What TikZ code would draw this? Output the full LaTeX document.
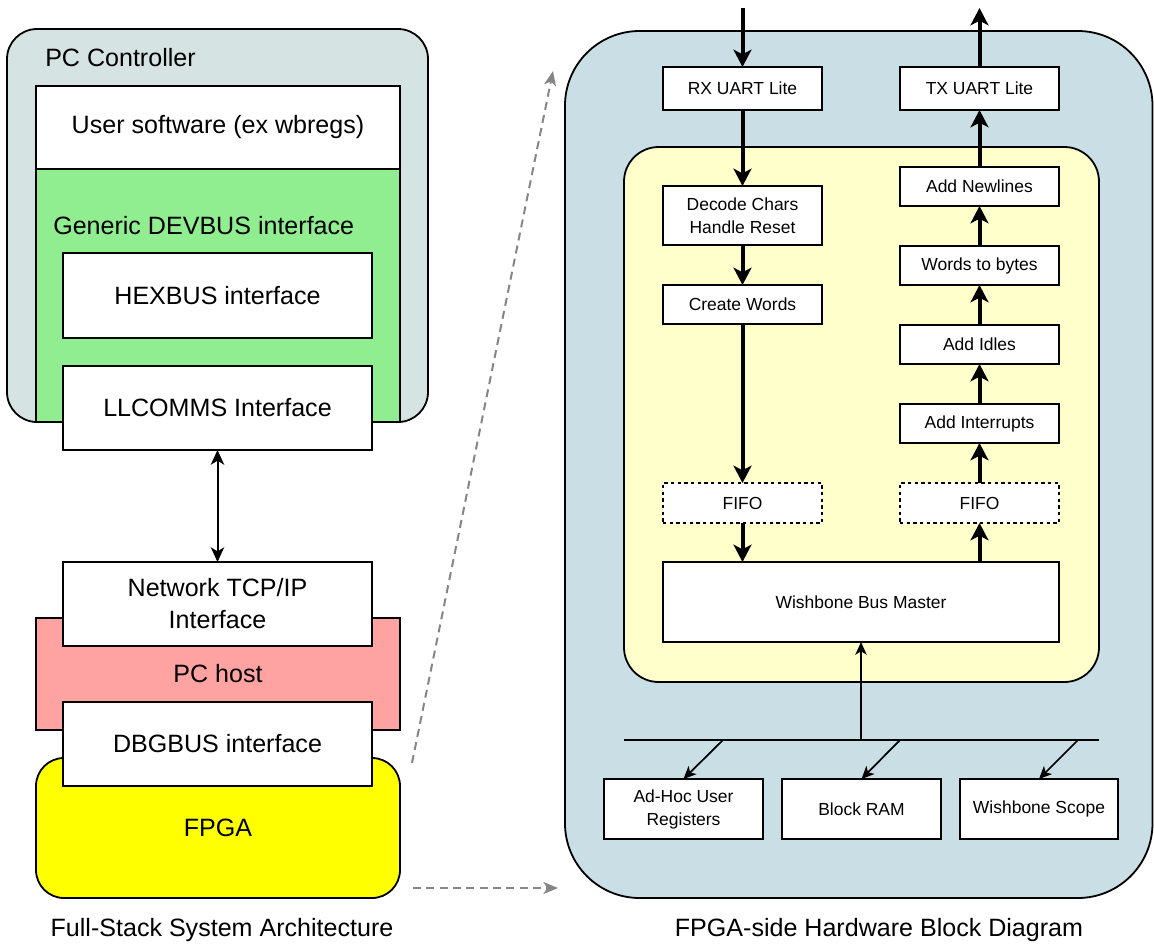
\documentclass[tikz,border=0pt]{standalone}
\usepackage{fontspec}
\setmainfont{Liberation Sans}
\usetikzlibrary{arrows.meta}
\definecolor{ctrlfill}{HTML}{D5E3E2}
\definecolor{devgreen}{HTML}{90EE90}
\definecolor{hostpink}{HTML}{FFA2A2}
\definecolor{fpgayellow}{HTML}{FFFF00}
\definecolor{hwblue}{HTML}{C9DFE5}
\definecolor{coreyellow}{HTML}{FFFFCC}
\definecolor{dashgray}{HTML}{858585}
\tikzset{
  mw/.style={minimum width=#1*0.75pt},
  mh/.style={minimum height=#1*0.75pt},
  box/.style={draw=black, line width=1.35pt, fill=white, inner sep=0pt, outer sep=0pt, align=center},
  bigtxt/.style={font=\fontsize{18.8}{24}\selectfont},
  smalltxt/.style={font=\fontsize{13.1}{17.25}\selectfont},
  flowarrow/.style={line width=3pt, -{Stealth[length=13pt,width=13.5pt,inset=3.5pt]}},
  linkarrow/.style={line width=1.3pt, -{Stealth[length=9.5pt,width=8.5pt,inset=2.5pt]}},
  duoarrow/.style={line width=1.5pt, {Stealth[length=11pt,width=10pt,inset=3pt]}-{Stealth[length=11pt,width=10pt,inset=3pt]}},
  dasharrow/.style={draw=dashgray, line width=1.5pt, dash pattern=on 6pt off 4pt, -{Stealth[length=11pt,width=9pt,inset=3pt]}},
  fifobox/.style={box, dash pattern=on 2.5pt off 2.5pt},
}
\begin{document}
\begin{tikzpicture}[x=0.75pt,y=-0.75pt]
\useasboundingbox (0,0) rectangle (1154,947);

% ---------- Left: full-stack ----------
\node[box, fill=ctrlfill, rounded corners=22.5pt, mw=421, mh=393] (pcctrl) at (217.5,225.5) {};
\node[bigtxt, anchor=west, inner sep=0pt] (pclabel) at (45,57.5) {PC Controller};
\node[box, bigtxt, mw=364, mh=83] (usersw) at (218,127.5) {User software (ex wbregs)};
\node[box, fill=devgreen, mw=364, mh=253] (devbus) at (218,295.5) {};
\node[bigtxt, anchor=west, inner sep=0pt] (devlabel) at (53,226) {Generic DEVBUS interface};
\node[box, bigtxt, mw=309, mh=85] (hexbus) at (217.5,295.5) {HEXBUS interface};
\node[box, bigtxt, mw=309, mh=84] (llcomms) at (217.5,408) {LLCOMMS Interface};

\node[box, bigtxt, fill=hostpink, mw=364, mh=112] (pchost) at (218,674) {PC host};
\node[box, bigtxt, mw=309, mh=84] (network) at (217.5,604) {Network TCP/IP\\Interface};
\node[box, bigtxt, fill=fpgayellow, rounded corners=21pt, mw=364, mh=140] (fpga) at (218,828) {FPGA};
\node[box, bigtxt, mw=309, mh=84] (dbgbus) at (217.5,744) {DBGBUS interface};

\draw[duoarrow] (llcomms.south) -- (network.north);

\node[bigtxt, inner sep=0pt] (cap1) at (222,930) {Full-Stack System Architecture};

% ---------- dashed zoom arrows ----------
\coordinate (dz1a) at (412,763);
\coordinate (dz1b) at (553,71);
\coordinate (dz2a) at (413,888);
\coordinate (dz2b) at (558,888);
\draw[dasharrow] (dz1a) -- (dz1b);
\draw[dasharrow] (dz2a) -- (dz2b);

% ---------- Right: hardware block diagram ----------
\node[box, fill=hwblue, rounded corners=56pt, mw=587.5, mh=867] (hwbox) at (858.75,464.5) {};
\node[box, fill=coreyellow, rounded corners=26pt, mw=475, mh=535] (core) at (861.5,414.5) {};

\node[box, smalltxt, mw=159, mh=43] (rx) at (742.5,88.5) {RX UART Lite};
\node[box, smalltxt, mw=159, mh=43] (tx) at (979.5,88.5) {TX UART Lite};
\node[box, smalltxt, mw=159, mh=59] (decode) at (742.5,215.5) {Decode Chars\\Handle Reset};
\node[box, smalltxt, mw=159, mh=39] (create) at (742.5,304.5) {Create Words};
\node[fifobox, smalltxt, mw=159, mh=40] (fifoin) at (742.5,503) {FIFO};
\node[box, smalltxt, mw=396, mh=80] (wbm) at (861,602) {Wishbone Bus Master};
\node[box, smalltxt, mw=159, mh=39] (newl) at (979.5,186.5) {Add Newlines};
\node[box, smalltxt, mw=159, mh=39] (w2b) at (979.5,265.5) {Words to bytes};
\node[box, smalltxt, mw=159, mh=39] (idles) at (979.5,344.5) {Add Idles};
\node[box, smalltxt, mw=159, mh=39] (intr) at (979.5,423.5) {Add Interrupts};
\node[fifobox, smalltxt, mw=159, mh=40] (fifoout) at (979.5,503) {FIFO};

\node[box, smalltxt, mw=159, mh=60] (adhoc) at (683.5,809) {Ad-Hoc User\\Registers};
\node[box, smalltxt, mw=159, mh=60] (bram) at (861.5,809) {Block RAM};
\node[box, smalltxt, mw=158, mh=60] (scope) at (1039,809) {Wishbone Scope};

\coordinate (rxin) at (742.5,8);
\coordinate (txout) at (979.5,8);
\draw[flowarrow] (rxin) -- (rx.north);
\draw[flowarrow] (tx.north) -- (txout);
\draw[flowarrow] (rx.south) -- (decode.north);
\draw[flowarrow] (decode.south) -- (create.north);
\draw[flowarrow] (create.south) -- (fifoin.north);
\draw[flowarrow] (fifoin.south) -- (fifoin.south |- wbm.north);
\draw[flowarrow] (fifoout.south |- wbm.north) -- (fifoout.south);
\draw[flowarrow] (fifoout.north) -- (intr.south);
\draw[flowarrow] (intr.north) -- (idles.south);
\draw[flowarrow] (idles.north) -- (w2b.south);
\draw[flowarrow] (w2b.north) -- (newl.south);
\draw[flowarrow] (newl.north) -- (tx.south);

\coordinate (busL) at (624,740);
\coordinate (busR) at (1099,740);
\coordinate (busM) at (861,740);
\coordinate (bus1) at (723,740);
\coordinate (bus2) at (900,740);
\coordinate (bus3) at (1078,740);
\draw[line width=1.3pt] (busL) -- (busR);
\draw[linkarrow] (busM) -- (wbm.south);
\draw[linkarrow] (bus1) -- (adhoc.north);
\draw[linkarrow] (bus2) -- (bram.north);
\draw[linkarrow] (bus3) -- (scope.north);

\node[bigtxt, inner sep=0pt] (cap2) at (879,930) {FPGA-side Hardware Block Diagram};
\end{tikzpicture}
\end{document}
